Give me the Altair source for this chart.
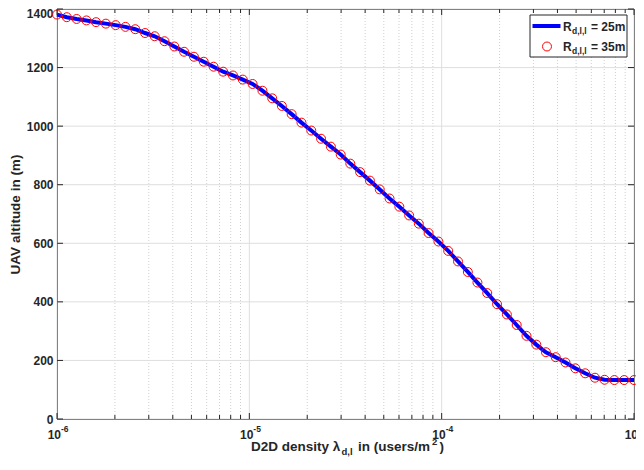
import altair as alt
import pandas as pd

# ---- data ----
exponents = [-6.000, -5.949, -5.898, -5.847, -5.797, -5.746, -5.695, -5.644, -5.593, -5.542,
             -5.492, -5.441, -5.390, -5.339, -5.288, -5.237, -5.186, -5.136, -5.085, -5.034,
             -4.983, -4.932, -4.881, -4.831, -4.780, -4.729, -4.678, -4.627, -4.576, -4.525,
             -4.475, -4.424, -4.373, -4.322, -4.271, -4.220, -4.169, -4.119, -4.068, -4.017,
             -3.966, -3.915, -3.864, -3.814, -3.763, -3.712, -3.661, -3.610, -3.559, -3.508,
             -3.458, -3.407, -3.356, -3.305, -3.254, -3.203, -3.153, -3.102, -3.051, -3.000]

alt_25 = [1381, 1372, 1366, 1361, 1355, 1350, 1345, 1339, 1331, 1318,
          1307, 1290, 1272, 1254, 1237, 1220, 1203, 1186, 1173, 1159,
          1144, 1121, 1095, 1069, 1041, 1012, 985, 957, 930, 903,
          872, 843, 814, 784, 753, 725, 695, 667, 635, 606,
          574, 538, 502, 466, 430, 392, 357, 321, 284, 254,
          228, 211, 193, 173, 156, 141, 134, 133, 133, 133]

alt_35 = [1381, 1372, 1366, 1361, 1355, 1350, 1345, 1339, 1331, 1318,
          1307, 1290, 1272, 1254, 1237, 1220, 1203, 1186, 1173, 1159,
          1144, 1121, 1095, 1069, 1041, 1012, 985, 957, 930, 903,
          872, 843, 814, 784, 753, 725, 695, 667, 635, 606,
          574, 538, 502, 466, 430, 392, 357, 321, 284, 254,
          228, 211, 193, 173, 156, 141, 134, 133, 133, 133]

x_major = [1e-6, 1e-5, 1e-4, 1e-3]
x_sup = ["-6", "-5", "-4", "-3"]
minor_mult = [2, 3, 4, 5, 6, 7, 8, 9]
y_ticks = [0, 200, 400, 600, 800, 1000, 1200, 1400]

lam = [10 ** e for e in exponents]
x_minor = [m * d for d in x_major[:-1] for m in minor_mult]

W, H = 577, 410
FONT = "Liberation Sans"
TXT = "#262626"

xs = alt.Scale(type="log", domain=[1e-6, 1e-3], nice=False)
ys = alt.Scale(domain=[0, 1400], nice=False)
yaxis = alt.Axis(values=y_ticks, format="d", ticks=False, domain=False, grid=False,
                 labelPadding=4, title="UAV altitude in (m)", titlePadding=4,
                 labelOffset={"condition": {"test": "datum.value >= 1400", "value": 4}, "value": 0})

def X(field="lam"):
    return alt.X(f"{field}:Q", scale=xs, axis=None)

def Y(field="h"):
    return alt.Y(f"{field}:Q", scale=ys, axis=yaxis)

df_line = pd.DataFrame({"lam": lam, "h": alt_25})
df_pts = pd.DataFrame({"lam": lam, "h": alt_35})
df_major = pd.DataFrame({"lam": x_major, "sup": x_sup})
df_minor = pd.DataFrame({"lam": x_minor})
df_y = pd.DataFrame({"h": y_ticks})
one = pd.DataFrame({"k": [0]})

layers = []
# grid
layers.append(alt.Chart(df_minor).mark_rule(color="#cfcfcf", strokeDash=[1, 2], strokeWidth=1).encode(x=X()))
layers.append(alt.Chart(df_major).mark_rule(color="#dedede", strokeWidth=1).encode(x=X()))
layers.append(alt.Chart(df_y).mark_rule(color="#dedede", strokeWidth=1).encode(y=Y()))
# data
layers.append(alt.Chart(df_line).mark_line(color="#0000ff", strokeWidth=4).encode(x=X(), y=Y()))
layers.append(alt.Chart(df_pts).mark_point(shape="circle", filled=False, color="#ff0000",
                                           size=80, strokeWidth=1, opacity=1).encode(x=X(), y=Y()))
# inward ticks
layers.append(alt.Chart(df_major).mark_rule(color=TXT).encode(x=X(), y=alt.value(H), y2=alt.value(H - 6)))
layers.append(alt.Chart(df_major).mark_rule(color=TXT).encode(x=X(), y=alt.value(0), y2=alt.value(6)))
layers.append(alt.Chart(df_minor).mark_rule(color=TXT).encode(x=X(), y=alt.value(H), y2=alt.value(H - 4)))
layers.append(alt.Chart(df_minor).mark_rule(color=TXT).encode(x=X(), y=alt.value(0), y2=alt.value(4)))
layers.append(alt.Chart(df_y).mark_rule(color=TXT).encode(y=Y(), x=alt.value(0), x2=alt.value(6)))
layers.append(alt.Chart(df_y).mark_rule(color=TXT).encode(y=Y(), x=alt.value(W), x2=alt.value(W - 6)))
# x tick labels 10^n
layers.append(alt.Chart(df_major).mark_text(text="10", align="right", dx=4, baseline="alphabetic",
                                            font=FONT, fontSize=12, fontWeight="bold", color=TXT)
              .encode(x=X(), y=alt.value(430)))
layers.append(alt.Chart(df_major).mark_text(align="left", dx=4, baseline="alphabetic",
                                            font=FONT, fontSize=8.5, fontWeight="bold", color=TXT)
              .encode(x=X(), y=alt.value(423), text="sup:N"))

# x title composed of pieces (subscript / superscript)
def piece(txt, x, y, size):
    return alt.Chart(one).mark_text(text=txt, align="left", baseline="alphabetic", font=FONT,
                                    fontSize=size, fontWeight="bold", color=TXT).encode(
        x=alt.value(x), y=alt.value(y))

F, S = 13.5, 9.5
TY = 442
layers.append(piece("D2D density λ", 194, TY, F))
layers.append(piece("d,l", 284.5, TY + 4, S))
layers.append(piece("in (users/m", 301, TY, F))
layers.append(piece("2", 375, TY - 6, S))
layers.append(piece(")", 382.5, TY, F))

# legend box
layers.append(alt.Chart(one).mark_rect(fill="white", stroke=TXT, strokeWidth=1).encode(
    x=alt.value(473), x2=alt.value(570), y=alt.value(6), y2=alt.value(48)))
layers.append(alt.Chart(one).mark_rule(color="#0000ff", strokeWidth=4).encode(
    x=alt.value(475.5), x2=alt.value(503.5), y=alt.value(17), y2=alt.value(17)))
layers.append(alt.Chart(one).mark_point(shape="circle", filled=False, color="#ff0000", size=80,
                                        strokeWidth=1, opacity=1).encode(
    x=alt.value(490), y=alt.value(37.5)))
for ly, lab in [(21.5, "= 25m"), (41.5, "= 35m")]:
    layers.append(piece("R", 506, ly, 12))
    layers.append(piece("d,l,l", 515, ly + 3.5, 8.5))
    layers.append(piece(lab, 534, ly, 12))

chart = alt.layer(*layers).properties(
    width=W, height=H,
    autosize=alt.AutoSizeParams(type="none"),
    padding={"left": 49, "top": 1, "right": 2, "bottom": 40},
).configure_view(stroke=TXT, strokeWidth=1).configure_axis(
    labelFont=FONT, labelFontSize=12, labelFontWeight="bold", labelColor=TXT,
    titleFont=FONT, titleFontSize=13.5, titleFontWeight="bold", titleColor=TXT,
)

chart.save("out.html", embed_options={"renderer": "svg", "actions": False})
